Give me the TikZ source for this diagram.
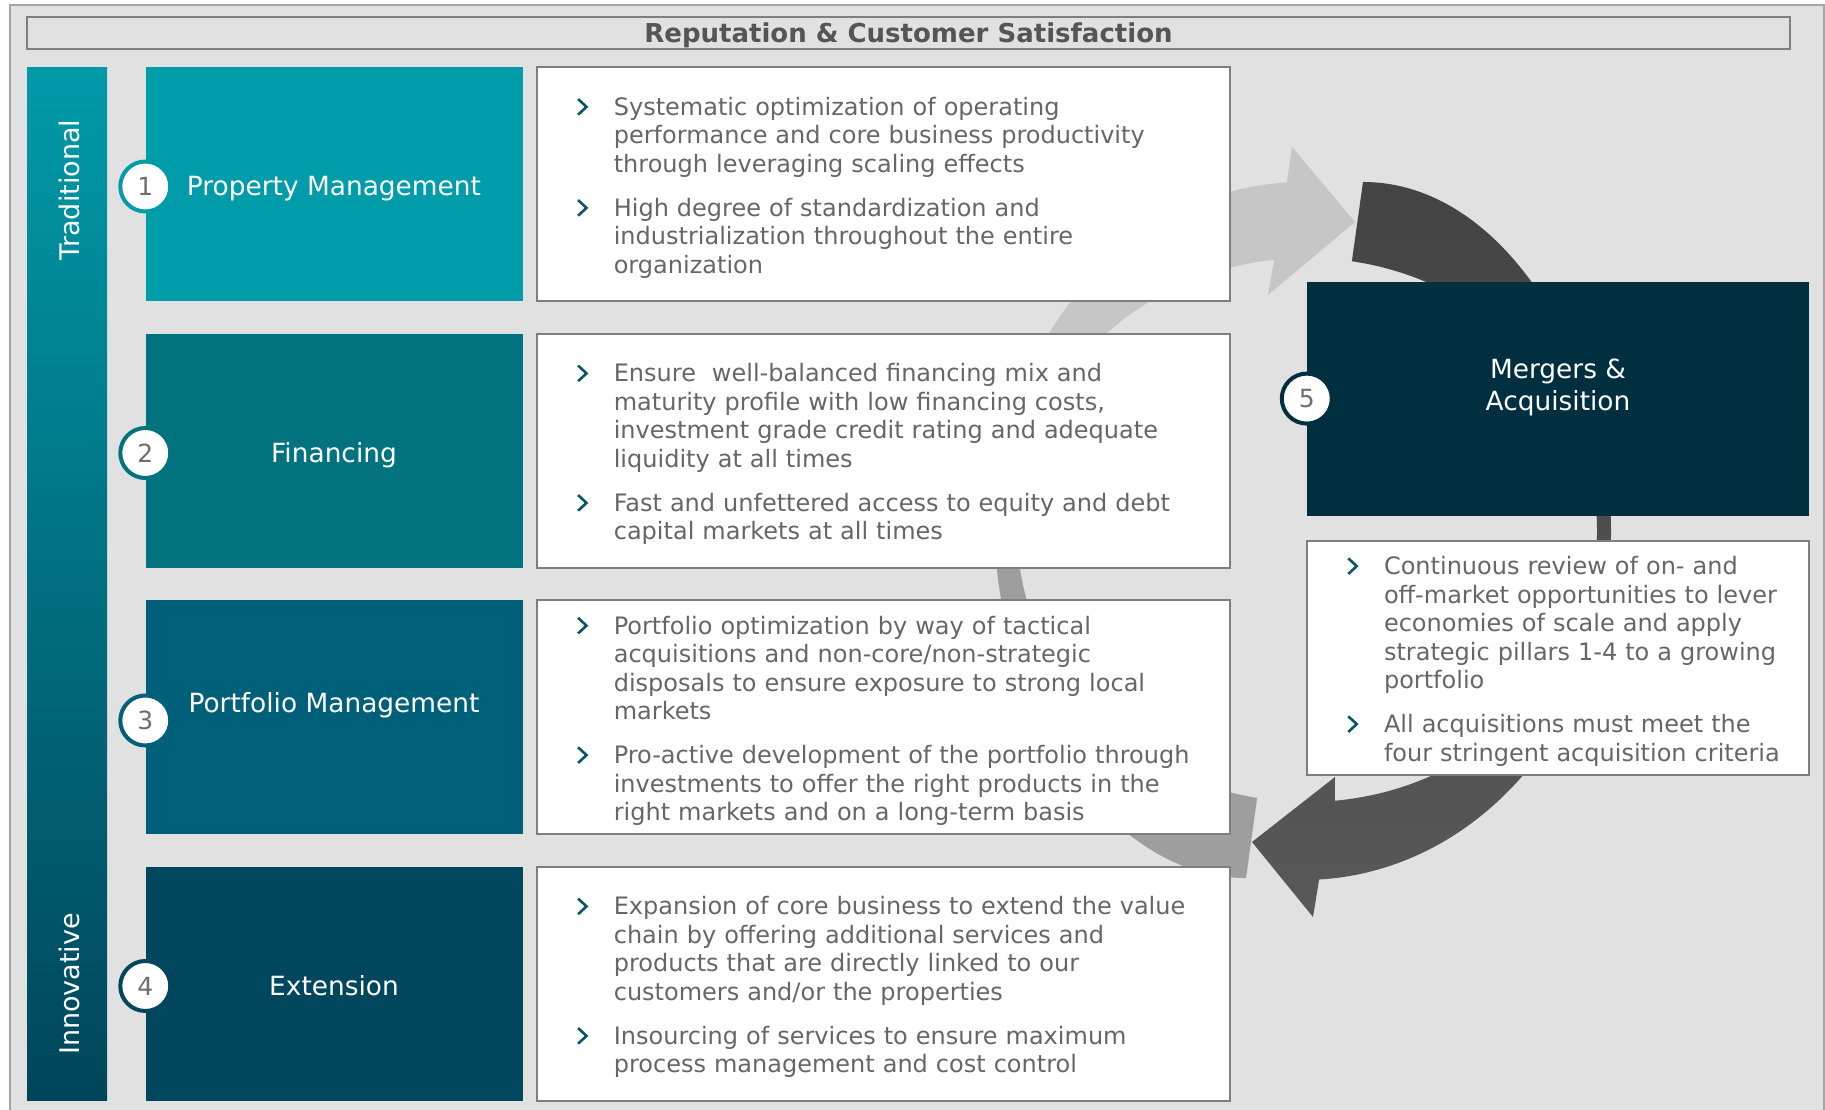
\documentclass[tikz,border=0pt]{standalone}
\usepackage{fontspec}
\setmainfont{DejaVu Sans}
\usetikzlibrary{shapes,arrows,calc}

\definecolor{bggrey}{HTML}{E1E1E1}
\definecolor{framegrey}{HTML}{A6A6A6}
\definecolor{linegrey}{HTML}{7F7F7F}
\definecolor{txtgrey}{HTML}{666666}
\definecolor{titlegrey}{HTML}{555555}
\definecolor{numgrey}{HTML}{6E6E6E}
\definecolor{pmteal}{HTML}{009CAA}
\definecolor{finteal}{HTML}{00737E}
\definecolor{pfblue}{HTML}{005F79}
\definecolor{extblue}{HTML}{00475D}
\definecolor{mablue}{HTML}{00303F}
\definecolor{chevblue}{HTML}{0A5468}
\definecolor{barTop}{HTML}{009AA8}
\definecolor{barMid}{HTML}{00707F}
\definecolor{barBot}{HTML}{00455A}
\definecolor{arcLo}{HTML}{9E9E9E}
\definecolor{arcHi}{HTML}{C6C6C6}
\definecolor{darkTop}{HTML}{444444}
\definecolor{darkBot}{HTML}{585858}

\pgfdeclareverticalshading{greyarc}{100bp}{color(0bp)=(arcLo); color(48bp)=(arcLo); color(58bp)=(arcHi); color(100bp)=(arcHi)}

\tikzstyle{pillar} = [rectangle, text=white, minimum width=377pt, minimum height=234pt, inner sep=0pt, node distance=266.5pt, text height=23pt, text depth=0pt, font=\fontsize{26.4}{31.5}\selectfont]
\tikzstyle{malabel} = [text=white, align=center, inner sep=0pt, font=\fontsize{26.4}{31.5}\selectfont]
\tikzstyle{desc} = [rectangle, draw=linegrey, line width=2pt, fill=white, text=txtgrey, text width=649pt, inner xsep=22pt, inner ysep=0pt, minimum height=234pt, node distance=549.3pt, font=\fontsize{24}{28.5}\selectfont, execute at begin node={\setlength{\parskip}{15.5pt}\leftskip=18pt\rule{0pt}{25pt}}]
\tikzstyle{num} = [circle, fill=white, line width=4pt, minimum size=50pt, inner sep=0pt, text=numgrey, font=\fontsize{25}{25}\selectfont]
\tikzstyle{side} = [text=white, rotate=90, font=\fontsize{27}{31}\selectfont]
\tikzstyle{bar} = [rectangle, minimum width=80pt, minimum height=1033.5pt, inner sep=0pt, top color=barTop, middle color=barMid, bottom color=barBot]
\tikzstyle{titlebox} = [rectangle, draw=linegrey, line width=2pt, fill=bggrey, minimum width=1763pt, minimum height=32pt, inner sep=0pt, text depth=0pt, text=titlegrey, font=\fontsize{26}{26}\selectfont\bfseries]

\newcommand{\chev}{\begin{pgfpicture}\pgfsetbaseline{0pt}\pgfsetlinewidth{2.6pt}\pgfsetcolor{chevblue}\pgfsetmiterjoin\pgfpathmoveto{\pgfpoint{0.6pt}{16.4pt}}\pgfpathlineto{\pgfpoint{9pt}{8.6pt}}\pgfpathlineto{\pgfpoint{0.6pt}{0.8pt}}\pgfusepath{stroke}\end{pgfpicture}}
\newcommand{\bitem}[1]{\hangindent=37pt\hangafter=1\noindent\makebox[37pt][l]{\chev}#1\par}

\begin{document}
\begin{tikzpicture}[x=1pt, y=1pt]
	\useasboundingbox (0,0) rectangle (1825,1110);
	\fill[white] (0,0) rectangle (1825,1110);
	\draw[framegrey, line width=1.5pt, fill=bggrey] (10,-10) rectangle (1824,1105);
	
	\node [titlebox] (title) at (908.5,1077) {Reputation \& Customer Satisfaction};
	
	\coordinate (oc) at (1303,579);
	\coordinate (ic) at (1307,580);
	
	\path [shading=greyarc] (1246,232) .. controls (1100,232) and (995,420) .. (995,579) arc[start angle=180, end angle=93.0, x radius=308, y radius=349] -- (1292,963) -- (1355,888) -- (1268,815) -- ($(ic)+(96.5:290 and 272)$) arc[start angle=96.5, end angle=260.1, x radius=290, y radius=272] -- cycle;
	
	\path [top color=darkTop, bottom color=darkBot] (1363,928) .. controls (1509,928) and (1611,738) .. (1611,579) arc[start angle=0, end angle=-87.0, x radius=308, y radius=349] -- (1313,193) -- (1252,268) -- (1335,333) -- ($(ic)+(-84.5:290 and 272)$) arc[start angle=-84.5, end angle=81.1, x radius=290, y radius=272] -- cycle;
	
	\node [pillar, fill=pmteal] (pm) at (334,925.5) {Property Management};
	\node [pillar, fill=finteal, below of=pm] (fin) {Financing};
	\node [pillar, fill=pfblue, below of=fin, text depth=33pt] (pf) {Portfolio Management};
	\node [pillar, fill=extblue, below of=pf] (ext) {Extension};
	\node [pillar, fill=mablue, minimum width=502pt] (ma) at (1558,711.4) {};
	\node [malabel] (malbl) at ([yshift=11.3pt]ma.center) {Mergers \&\\Acquisition};
	
	\node [bar] (bar) at (67,525.75) {};
	\node [side] (trad) at ([xshift=2.5pt, yshift=-5.5pt]bar |- pm) {Traditional};
	\node [side] (innov) at ([xshift=2.5pt]bar |- ext) {Innovative};
	
	\node [desc, right of=pm] (pmd) {\bitem{Systematic optimization of operating\newline performance and core business productivity\newline through leveraging scaling effects}\bitem{High degree of standardization and\newline industrialization throughout the entire\newline organization}};
	
	\node [desc, right of=fin] (find) {\bitem{Ensure~ well-balanced financing mix and\newline maturity profile with low financing costs,\newline investment grade credit rating and adequate\newline liquidity at all times}\bitem{Fast and unfettered access to equity and debt\newline capital markets at all times}};
	
	\node [desc, right of=pf] (pfd) {\bitem{Portfolio optimization by way of tactical\newline acquisitions and non-core/non-strategic\newline disposals to ensure exposure to strong local\newline markets}\bitem{Pro-active development of the portfolio through\newline investments to offer the right products in the\newline right markets and on a long-term basis}};
	
	\node [desc, right of=ext] (extd) {\bitem{Expansion of core business to extend the value\newline chain by offering additional services and\newline products that are directly linked to our\newline customers and/or the properties}\bitem{Insourcing of services to ensure maximum\newline process management and cost control}};
	
	\node [desc, text width=458pt, below of=ma, node distance=259.4pt] (mad) {\bitem{Continuous review of on- and\newline off-market opportunities to lever\newline economies of scale and apply\newline strategic pillars 1-4 to a growing\newline portfolio}\bitem{All acquisitions must meet the\newline four stringent acquisition criteria}};
	
	\node [num, draw=pmteal] (n1) at ([yshift=-2pt]pm.west) {1};
	\node [num, draw=finteal] (n2) at ([yshift=-2pt]fin.west) {2};
	\node [num, draw=pfblue] (n3) at ([yshift=-3pt]pf.west) {3};
	\node [num, draw=extblue] (n4) at ([yshift=-2pt]ext.west) {4};
	\node [num, draw=mablue] (n5) at (ma.west) {5};
\end{tikzpicture}
\end{document}
